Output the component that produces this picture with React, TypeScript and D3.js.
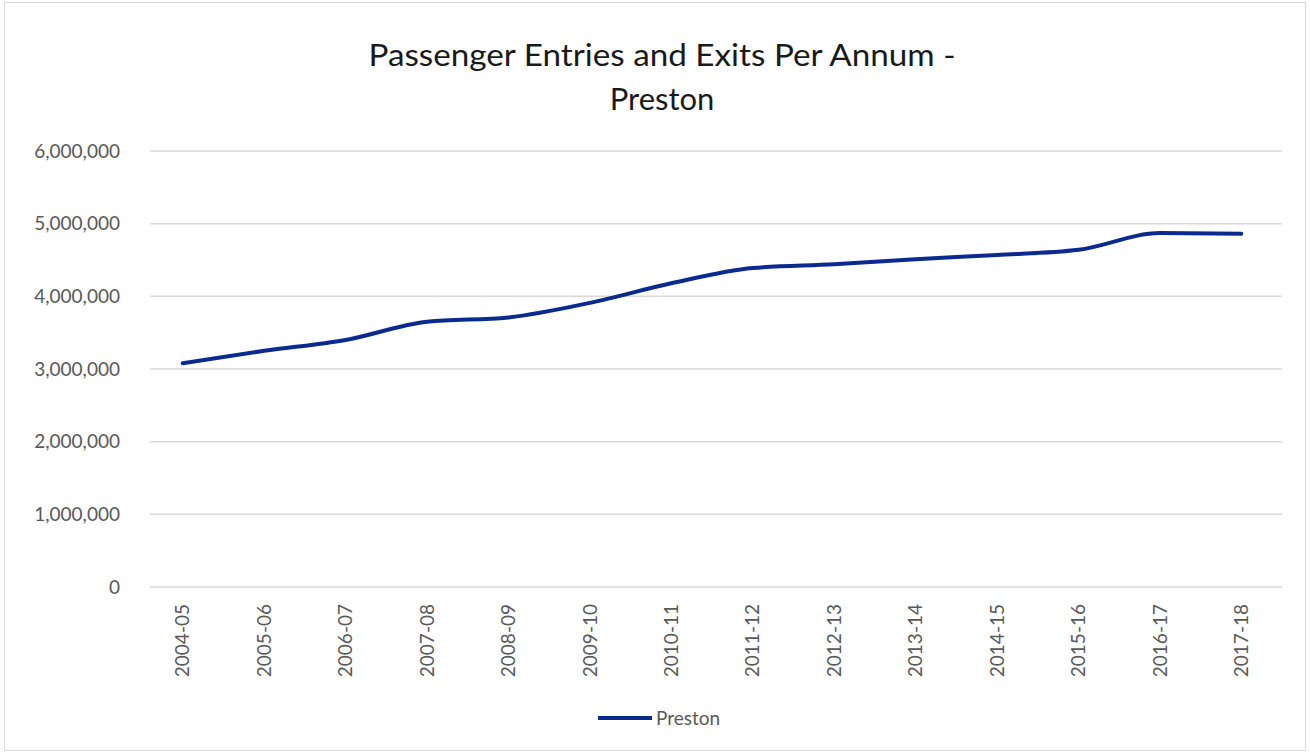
import React, { useEffect, useRef } from "react";
import * as d3 from "d3";

const categories = ["2004-05","2005-06","2006-07","2007-08","2008-09","2009-10","2010-11","2011-12","2012-13","2013-14","2014-15","2015-16","2016-17","2017-18"];
const prestonValues = [3080000,3250000,3400000,3650000,3710000,3910000,4180000,4390000,4440000,4510000,4570000,4640000,4870000,4860000];
const yTicks = [0,1000000,2000000,3000000,4000000,5000000,6000000];
const titleLines = ["Passenger Entries and Exits Per Annum -", "Preston"];
const seriesName = "Preston";

const W = 1310, H = 755;
const FONT = "Lato, 'Open Sans', sans-serif";

export default function App() {
  const ref = useRef<SVGSVGElement>(null);
  useEffect(() => {
    const svg = d3.select(ref.current);
    svg.selectAll("*").remove();
    const left = 142, right = 1282, top = 151, bottom = 587;
    svg.append("rect").attr("x", 4.5).attr("y", 2.5).attr("width", W - 9).attr("height", H - 7)
      .attr("fill", "#fff").attr("stroke", "#d9d9d9");

    const x = d3.scaleBand().domain(categories).range([left, right]);
    const y = d3.scaleLinear().domain([0, 6000000]).range([bottom, top]);

    svg.append("g").selectAll("line").data(yTicks).join("line")
      .attr("x1", left + 8).attr("x2", right).attr("y1", d => y(d)).attr("y2", d => y(d))
      .attr("stroke", "#d9d9d9").attr("stroke-width", 1.5);

    const fmt = d3.format(",");
    svg.append("g").selectAll("text").data(yTicks).join("text")
      .attr("x", 120).attr("y", d => y(d)).attr("dy", "0.35em").attr("text-anchor", "end")
      .attr("font-family", FONT).attr("font-size", 19).attr("fill", "#595959")
      .text(d => fmt(d));

    svg.append("g").selectAll("text").data(categories).join("text")
      .attr("transform", d => `translate(${(x(d) as number) + x.bandwidth() / 2},${bottom + 17}) rotate(-90)`)
      .attr("text-anchor", "end").attr("dy", "0.35em")
      .attr("font-family", FONT).attr("font-size", 19).attr("fill", "#595959")
      .text(d => d);

    const line = d3.line<number>()
      .x((_, i) => (x(categories[i]) as number) + x.bandwidth() / 2)
      .y(d => y(d))
      .curve(d3.curveMonotoneX);
    svg.append("path").datum(prestonValues).attr("d", line).attr("fill", "none")
      .attr("stroke", "#0a2a8f").attr("stroke-width", 4).attr("stroke-linecap", "round");

    const t = svg.append("text").attr("text-anchor", "middle").attr("font-family", FONT)
      .attr("font-size", 31).attr("fill", "#1a1a1a");
    t.append("tspan").attr("x", 662).attr("y", 66).attr("textLength", 587).attr("lengthAdjust", "spacingAndGlyphs").text(titleLines[0]);
    t.append("tspan").attr("x", 662).attr("y", 110).text(titleLines[1]);

    svg.append("line").attr("x1", 598).attr("x2", 652).attr("y1", 718).attr("y2", 718)
      .attr("stroke", "#0a2a8f").attr("stroke-width", 4);
    svg.append("text").attr("x", 656).attr("y", 718).attr("dy", "0.35em")
      .attr("font-family", FONT).attr("font-size", 19).attr("fill", "#595959").text(seriesName);
  }, []);
  return (
    <svg ref={ref} width={W} height={H} style={{ position: "absolute", left: 0, top: 0, background: "#fff" }} />
  );
}
